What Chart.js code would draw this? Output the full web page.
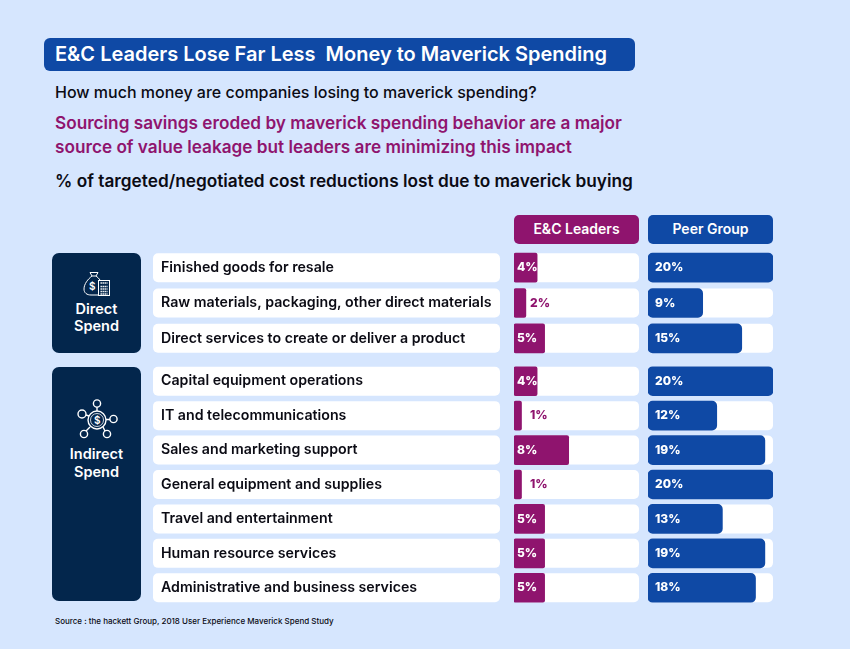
<!DOCTYPE html>
<html>
<head>
<meta charset="utf-8">
<script src="https://cdn.jsdelivr.net/npm/chart.js@4"></script>
<style>
  html, body { margin: 0; padding: 0; }
  body { width: 850px; height: 649px; background: #d6e6fe; position: relative; overflow: hidden; font-family: Inter, sans-serif; }
  .abs { position: absolute; white-space: pre; }
  .line { left: 55px; line-height: 24px; height: 24px; }
  .title { left: 44px; top: 38px; width: 591px; height: 33px; background: #0f49a5; border-radius: 6px; color: #fff; font-size: 20px; font-weight: 600; line-height: 32px; text-indent: 11px; }
  .head { top: 215px; width: 125px; height: 29px; border-radius: 5px; color: #fff; font-size: 14px; font-weight: 600; line-height: 28px; text-align: center; }
  .group { left: 52px; width: 89px; background: #03264c; border-radius: 7px; color: #fff; font-size: 14.5px; font-weight: 600; line-height: 18px; text-align: center; }
  .group span { position: absolute; left: 0; right: 0; }
  .group svg { position: absolute; }
  canvas { position: absolute; }
</style>
</head>
<body>
<div class="abs title">E&amp;C Leaders Lose Far Less  Money to Maverick Spending</div>
<div class="abs line" style="top:80px;font-size:16px;font-weight:500;color:#0b0b14">How much money are companies losing to maverick spending?</div>
<div class="abs line" style="top:111px;font-size:17.2px;font-weight:600;color:#8f146e">Sourcing savings eroded by maverick spending behavior are a major</div>
<div class="abs line" style="top:135px;font-size:17.2px;font-weight:600;color:#8f146e">source of value leakage but leaders are minimizing this impact</div>
<div class="abs line" style="top:169px;font-size:17.25px;font-weight:600;color:#0b0b14">% of targeted/negotiated cost reductions lost due to maverick buying</div>

<div class="abs head" style="left:514px;background:#8f146e">E&amp;C Leaders</div>
<div class="abs head" style="left:648px;background:#0f49a5">Peer Group</div>

<div class="abs group" style="top:253px;height:100px">
  <svg style="left:31px;top:18px" width="28" height="26" viewBox="0 0 28 26" fill="none" stroke="#fff" stroke-width="1">
    <path d="M7 1.5h8l-2 3.5H9zM9 5c-4 3-8 8-8 13 0 4 3 6 7 6h8M13 5c1.5 1 3 2.5 4 4"/>
    <text x="6" y="19" fill="#fff" stroke="none" font-size="10" font-family="Inter">$</text>
    <rect x="15.5" y="9.5" width="11" height="15" fill="#03264c"/>
    <path d="M17.5 12h7M17.5 15.5h7M17.5 18h7M17.5 20.5h7M17.5 23h7" stroke-width="1.4" stroke-dasharray="1.4 .6"/>
  </svg>
  <span style="top:47px">Direct</span>
  <span style="top:64px">Spend</span>
</div>
<div class="abs group" style="top:367px;height:234px">
  <svg style="left:25px;top:32px" width="44" height="40" viewBox="0 0 44 40" fill="none" stroke="#fff" stroke-width="1.4">
    <circle cx="20" cy="21" r="9"/><circle cx="20" cy="21" r="6.5" stroke-width=".8"/>
    <circle cx="20" cy="4.5" r="3.6"/><circle cx="36.500" cy="20" r="3.6"/><circle cx="7" cy="35" r="3.6"/><circle cx="30" cy="35" r="3.6"/><circle cx="5" cy="15" r="4"/>
    <path d="M20 8v4M29 20.500h4M13 28l-4 4M26 28l2 4M9 16l3 1"/>
    <text x="17" y="25" fill="#fff" stroke="none" font-size="10" font-family="Inter">$</text>
  </svg>
  <span style="top:78px">Indirect</span>
  <span style="top:96px">Spend</span>
</div>

<canvas id="directLeaders" style="left:153px;top:250px"></canvas>
<canvas id="directPeers" style="left:648px;top:250px"></canvas>
<canvas id="indirectLeaders" style="left:153px;top:364px"></canvas>
<canvas id="indirectPeers" style="left:648px;top:364px"></canvas>

<div class="abs" style="left:55px;top:616px;font-size:8px;font-weight:500;color:#0b0b14">Source : the hackett Group, 2018 User Experience Maverick Spend Study</div>

<script>
const directCategories = ['Finished goods for resale', 'Raw materials, packaging, other direct materials', 'Direct services to create or deliver a product'];
const indirectCategories = ['Capital equipment operations', 'IT and telecommunications', 'Sales and marketing support', 'General equipment and supplies', 'Travel and entertainment', 'Human resource services', 'Administrative and business services'];

// bar lengths as drawn in the picture, they don't always agree with the printed %
const directLeaders = [3.7, 1.9, 4.9];
const directPeers = [20, 8.75, 15];
const indirectLeaders = [3.7, 1.2, 8.75, 1.2, 4.9, 4.9, 4.9];
const indirectPeers = [20, 11, 18.7, 20, 11.9, 18.7, 17.2];

const directLeaderLabels = ['4%', '2%', '5%'];
const directPeerLabels = ['20%', '9%', '15%'];
const indirectLeaderLabels = ['4%', '1%', '8%', '1%', '5%', '5%', '5%'];
const indirectPeerLabels = ['20%', '12%', '19%', '20%', '13%', '19%', '18%'];

const PURPLE = '#8f146e';
const BLUE = '#0f49a5';
const ROW_HEIGHT = 29;

function roundBox(ctx, x, y, w, h) {
    ctx.beginPath();
    ctx.roundRect(x, y, w, h, 5);
    ctx.fill();
}

// white cards behind each row: the label card and the bar track
const rowCards = {
    id: 'rowCards',
    beforeDraw(chart) {
        const {ctx, chartArea, scales} = chart;
        ctx.save();
        ctx.fillStyle = '#fff';
        chart.data.labels.forEach((_, i) => {
            const y = scales.y.getPixelForValue(i) - ROW_HEIGHT / 2;
            roundBox(ctx, chartArea.left, y, chartArea.width, ROW_HEIGHT);
            if (chartArea.left > 0) roundBox(ctx, 0, y, chartArea.left - 14, ROW_HEIGHT);
        });
        ctx.restore();
    }
};

const valueLabels = {
    id: 'valueLabels',
    afterDatasetsDraw(chart, args, options) {
        const {ctx} = chart;
        ctx.save();
        ctx.font = '800 12px Inter';
        ctx.textBaseline = 'middle';
        chart.getDatasetMeta(0).data.forEach((bar, i) => {
            const small = bar.x - bar.base < 20;
            ctx.fillStyle = small ? options.color : '#fff';
            const x = bar.base + (small ? 16 : options.inset);
            ctx.fillText(options.texts[i], x, bar.y);
        });
        ctx.restore();
    }
};

function makeChart(id, categories, values, texts, color, inset, radius, withLabels) {
    const height = categories.length === 3 ? 106 : 241;
    const canvas = document.getElementById(id);
    canvas.style.width = (withLabels ? 486 : 125) + 'px';
    canvas.style.height = height + 'px';
    canvas.width = withLabels ? 486 : 125;
    canvas.height = height;
    return new Chart(canvas, {
        type: 'bar',
        data: {
            labels: categories,
            datasets: [{
                data: values,
                backgroundColor: color,
                barThickness: ROW_HEIGHT,
                borderRadius: radius,
                borderSkipped: false
            }]
        },
        options: {
            indexAxis: 'y',
            responsive: false,
            animation: false,
            layout: { padding: { left: withLabels ? 8 : 0 } },
            plugins: {
                legend: { display: false },
                tooltip: { enabled: false },
                valueLabels: { texts: texts, color: color, inset: inset }
            },
            scales: {
                x: { display: false, min: 0, max: 20 },
                y: {
                    display: withLabels,
                    afterFit(axis) {
                        // labels sit inside the cards, so no extra room above/below the rows
                        axis.paddingTop = 0;
                        axis.paddingBottom = 0;
                        if (withLabels) axis.width = 353;
                    },
                    grid: { display: false, drawTicks: false },
                    border: { display: false },
                    ticks: {
                        crossAlign: 'far',
                        padding: 0,
                        color: '#0b0b14',
                        font: { family: 'Inter', size: 14.2, weight: '600' }
                    }
                }
            }
        },
        plugins: [rowCards, valueLabels]
    });
}

makeChart('directLeaders', directCategories, directLeaders, directLeaderLabels, PURPLE, 3, 2, true);
makeChart('directPeers', directCategories, directPeers, directPeerLabels, BLUE, 7, 5, false);
makeChart('indirectLeaders', indirectCategories, indirectLeaders, indirectLeaderLabels, PURPLE, 3, 2, true);
makeChart('indirectPeers', indirectCategories, indirectPeers, indirectPeerLabels, BLUE, 7, 5, false);
</script>
</body>
</html>
